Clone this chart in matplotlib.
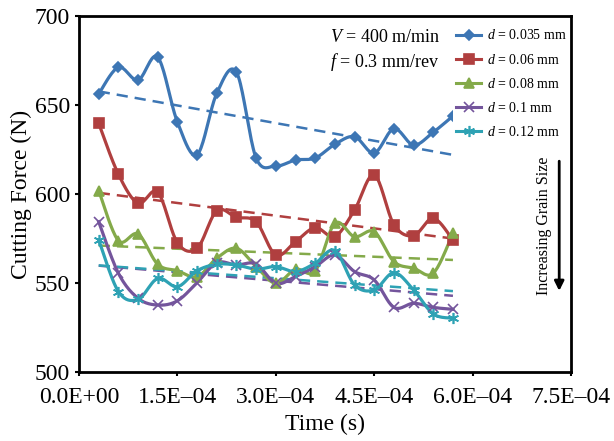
import numpy as np
from matplotlib import pyplot as plt
from matplotlib.lines import Line2D

plt.rcParams['font.family'] = ['Liberation Serif', 'DejaVu Serif']
plt.rcParams['mathtext.fontset'] = 'custom'
plt.rcParams['mathtext.rm'] = 'Liberation Serif'
plt.rcParams['mathtext.it'] = 'Liberation Serif:italic'

# time (s), 3E-05 steps
time = np.arange(1, 20) * 3e-5

force_0035 = [656.2, 671.2, 664.0, 676.8, 640.4, 622.1, 656.6, 668.4, 620.2, 615.7,
              619.1, 620.2, 627.9, 632.2, 623.0, 636.7, 627.5, 634.7, 643.8]
force_006 = [639.7, 611.1, 594.8, 601.0, 572.6, 569.5, 590.6, 586.9, 584.4, 565.7,
             573.2, 581.1, 576.1, 591.0, 610.7, 582.8, 576.6, 586.4, 574.2]
force_008 = [601.9, 573.8, 577.5, 560.5, 556.9, 553.5, 563.9, 569.5, 559.2, 549.8,
             557.7, 556.7, 583.5, 576.0, 578.8, 562.0, 558.3, 555.5, 577.9]
force_01 = [584.4, 555.5, 541.4, 537.6, 540.0, 550.2, 561.4, 560.1, 560.7, 549.8,
            553.6, 559.2, 565.7, 556.4, 551.7, 536.3, 538.6, 536.3, 535.2]
force_012 = [574.2, 545.2, 540.8, 552.6, 547.9, 556.9, 560.5, 560.1, 557.7, 559.2,
             556.4, 561.1, 568.2, 548.9, 546.1, 555.8, 546.1, 532.6, 530.2]

labels = ['$d$ = 0.035 mm', '$d$ = 0.06 mm', '$d$ = 0.08 mm', '$d$ = 0.1 mm', '$d$ = 0.12 mm']
xticks = [0, 1.5e-4, 3.0e-4, 4.5e-4, 6.0e-4, 7.5e-4]
xticklabels = ['0.0E+00', '1.5E\u201304', '3.0E\u201304', '4.5E\u201304', '6.0E\u201304', '7.5E\u201304']
yticks = [500, 550, 600, 650, 700]

colors = ['#3d76b4', '#b03f3f', '#84aa4a', '#74559c', '#2ea2b4']
markers = ['D', 's', '^', 'x', (6, 2, 0)]
msizes = [5, 7, 7, 7, 8]


def smooth(x, y, n=20):
    # excel style smoothed line (catmull-rom bezier), only for drawing
    x = np.asarray(x, float)
    y = np.asarray(y, float)
    P = np.column_stack([x, y])
    P = np.vstack([P[0], P, P[-1]])
    out = []
    s = np.linspace(0, 1, n, endpoint=False)[:, None]
    for i in range(1, len(P) - 2):
        p0, p1, p2, p3 = P[i - 1], P[i], P[i + 1], P[i + 2]
        c1 = p1 + (p2 - p0) / 6
        c2 = p2 - (p3 - p1) / 6
        seg = (1 - s) ** 3 * p1 + 3 * (1 - s) ** 2 * s * c1 + 3 * (1 - s) * s ** 2 * c2 + s ** 3 * p2
        out.append(seg)
    out.append(P[-2][None, :])
    out = np.vstack(out)
    return out[:, 0], out[:, 1]


fig = plt.figure(figsize=(6.14, 4.41), dpi=100)
ax = fig.add_axes([0.1287, 0.1565, 0.8013, 0.8072])

series = [force_0035, force_006, force_008, force_01, force_012]
handles = []
for data, c, m, ms, lab in zip(series, colors, markers, msizes, labels):
    sx, sy = smooth(time, data)
    ax.plot(sx, sy, color=c, lw=2.3, zorder=3)
    ax.plot(time, data, ls='none', marker=m, ms=ms, color=c, mew=1.2, zorder=4)
    k, b = np.polyfit(time, data, 1)
    ax.plot([time[0], time[-1]], [k * time[0] + b, k * time[-1] + b], color=c,
            lw=1.8, ls=(0, (4.5, 2.8)), zorder=2)
    handles.append(Line2D([], [], color=c, lw=2.2, marker=m, ms=ms, mew=1.2, label=lab))

ax.set_xlim(0, 7.5e-4)
ax.set_ylim(500, 700)
ax.set_xticks(xticks)
ax.set_xticklabels(xticklabels)
ax.set_yticks(yticks)
ax.tick_params(labelsize=17, width=1.5, length=3, direction='out')
ax.tick_params(axis='x', pad=8)
for sp in ax.spines.values():
    sp.set_linewidth(2)
    sp.set_zorder(7)
ax.set_xlabel('Time (s)', fontsize=17, labelpad=4)
ax.set_ylabel('Cutting Force (N)', fontsize=17, labelpad=2)

leg = ax.legend(handles=handles, loc='upper right', bbox_to_anchor=(0.998, 0.975),
                fontsize=10, frameon=True, facecolor='white', edgecolor='none',
                framealpha=1, handlelength=1.8, labelspacing=0.73, borderpad=0.25,
                handletextpad=0.4, borderaxespad=0.0)
leg.set_zorder(5)

ax.text(0.51, 0.94, '$V$ = 400 m/min', transform=ax.transAxes, fontsize=13, va='center')
ax.text(0.51, 0.87, '$f$ = 0.3 mm/rev', transform=ax.transAxes, fontsize=13, va='center')

ax.text(0.945, 0.41, 'Increasing Grain Size', transform=ax.transAxes, fontsize=11.5,
        rotation=90, ha='center', va='center',
        bbox=dict(facecolor='white', edgecolor='none', pad=1))
ax.annotate('', xy=(0.976, 0.22), xytext=(0.976, 0.60), xycoords='axes fraction',
            arrowprops=dict(arrowstyle='-|>', color='black', lw=2, mutation_scale=14))

fig.savefig('out.png', dpi=100)
